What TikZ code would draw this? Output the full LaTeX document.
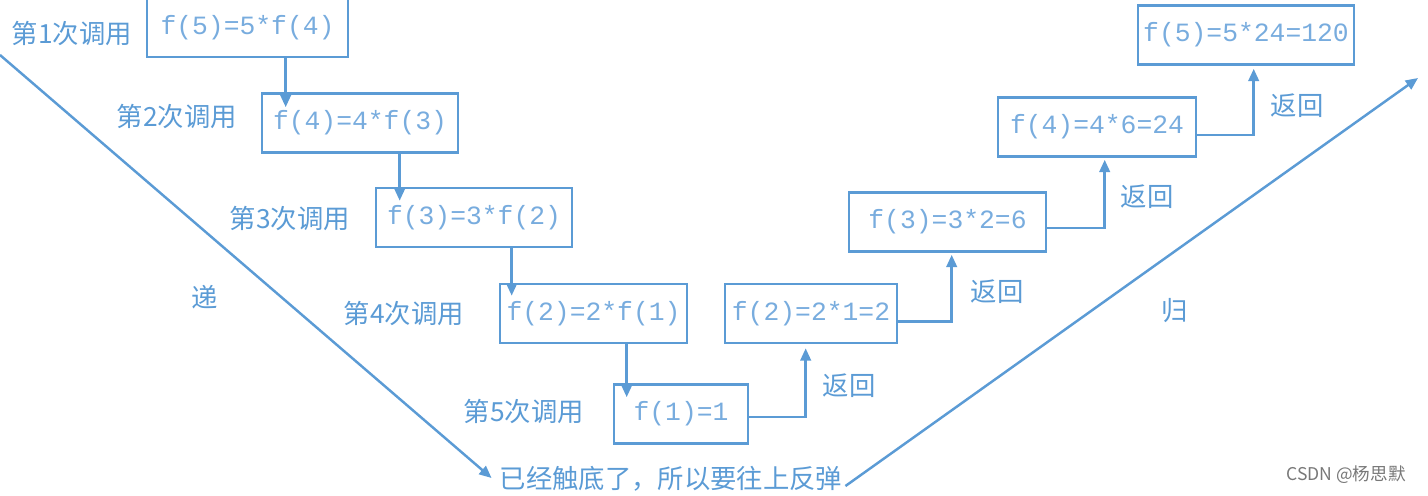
\documentclass[tikz,border=0pt]{standalone}
\usepackage{fontspec}
\usepackage{tikz}
\usetikzlibrary{positioning,arrows.meta,calc}
\newfontfamily\cjkfont{Noto Sans CJK SC}
\newfontfamily\boxfont{Liberation Mono}
\definecolor{recblue}{RGB}{91,155,213}
\definecolor{rectext}{RGB}{120,172,222}
\definecolor{markgray}{RGB}{120,120,120}

\begin{document}
\begin{tikzpicture}[
  frm/.style={rectangle, draw=recblue, line width=1.5pt, text=rectext,
              font=\boxfont\fontsize{15}{18}\selectfont,
              minimum width=#1, minimum height=1.18cm, inner sep=0pt},
  lab/.style={font=\cjkfont\fontsize{15}{18}\selectfont, text=recblue, inner sep=1pt},
  ar/.style={-{Triangle[length=7pt,width=6pt]}, line width=1.4pt, draw=recblue},
]
\useasboundingbox (0,0) rectangle (28.56,-9.9);

% calls going down
\node[frm=4.02cm] (b1) at (4.95, -0.55) {f(5)=5*f(4)};
\node[frm=3.92cm] (b2) at (7.20, -2.46) {f(4)=4*f(3)};
\node[frm=3.92cm] (b3) at (9.48, -4.35) {f(3)=3*f(2)};
\node[frm=3.74cm] (b4) at (11.87,-6.27) {f(2)=2*f(1)};
\node[frm=2.68cm] (b5) at (13.62,-8.28) {f(1)=1};

\node[lab] (c1) at (1.44, -0.66) {第1次调用};
\node[lab] (c2) at (3.54, -2.32) {第2次调用};
\node[lab] (c3) at (5.80, -4.36) {第3次调用};
\node[lab] (c4) at (8.08, -6.26) {第4次调用};
\node[lab] (c5) at (10.48,-8.22) {第5次调用};

% results going up
\node[frm=3.44cm] (r2) at (16.22,-6.27) {f(2)=2*1=2};
\node[frm=3.94cm] (r3) at (18.95,-4.44) {f(3)=3*2=6};
\node[frm=3.96cm] (r4) at (21.94,-2.54) {f(4)=4*6=24};
\node[frm=4.32cm] (r5) at (24.92,-0.70) {f(5)=5*24=120};

\node[lab] (h2) at (16.98,-7.72) {返回};
\node[lab] (h3) at (19.94,-5.84) {返回};
\node[lab] (h4) at (22.94,-3.94) {返回};
\node[lab] (h5) at (25.94,-2.12) {返回};

\draw[ar] ($(b1.south -| b2.west)+(0.50,0)$) -- ($(b2.north west)+(0.50,-0.30)$);
\draw[ar] ($(b2.south -| b3.west)+(0.50,0)$) -- ($(b3.north west)+(0.50,-0.28)$);
\draw[ar] ($(b3.south -| b4.west)+(0.26,0)$) -- ($(b4.north west)+(0.26,-0.26)$);
\draw[ar] ($(b4.south -| b5.west)+(0.28,0)$) -- ($(b5.north west)+(0.28,-0.28)$);

\draw[ar] ($(b5.east)+(0,-0.06)$) -| ($(r2.south west)+(1.64,-0.08)$);
\draw[ar] ($(r2.east)+(0,-0.16)$) -| ($(r3.south west)+(2.08,-0.04)$);
\draw[ar] ($(r3.east)+(0,-0.12)$) -| ($(r4.south west)+(2.16,-0.04)$);
\draw[ar] ($(r4.east)+(0,-0.16)$) -| ($(r5.south west)+(2.34,-0.06)$);

% the big V
\node[lab] (bottom) at (13.42,-9.58) {已经触底了，所以要往上反弹};
\coordinate (vstart) at (0,-1.10);
\coordinate (vend) at (28.36,-1.56);
\draw[ar] (vstart) -- ($(bottom.west)+(-0.12,0.02)$);
\draw[ar] ($(bottom.east)+(0.02,-0.14)$) -- (vend);

\node[lab] (down) at (4.10,-5.94) {递};
\node[lab] (up) at (23.50,-6.22) {归};

\node[font=\cjkfont\fontsize{10}{12}\selectfont, text=markgray] (mark) at (26.92,-9.50) {CSDN @杨思默};
\end{tikzpicture}
\end{document}
